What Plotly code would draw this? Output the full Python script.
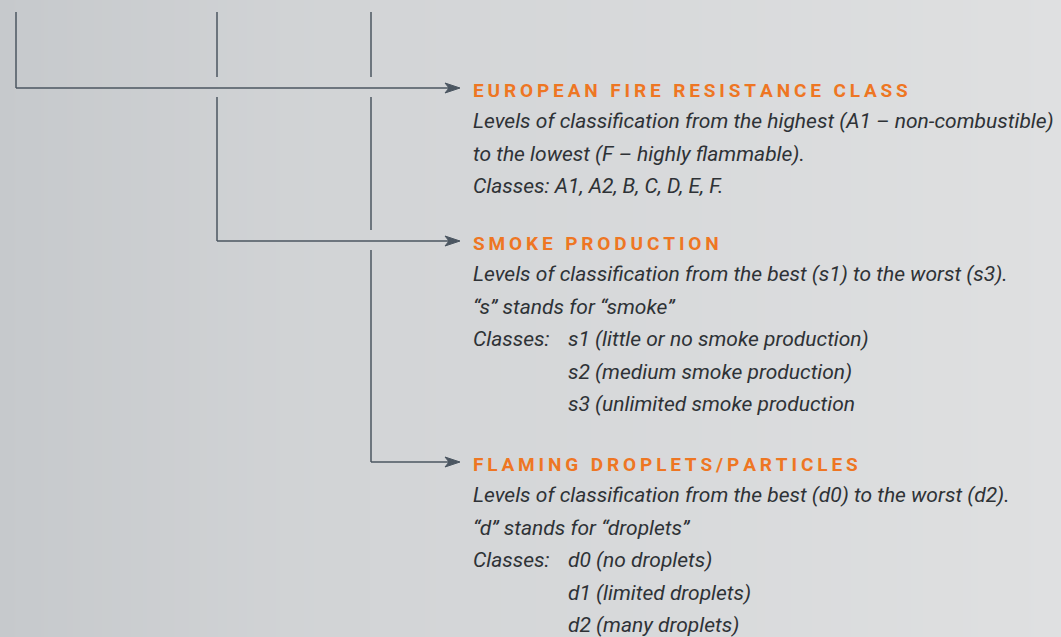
import plotly.graph_objects as go

W, H = 1061, 637

# ---- content ----
headings = ["EUROPEAN FIRE RESISTANCE CLASS", "SMOKE PRODUCTION", "FLAMING DROPLETS/PARTICLES"]
heading_y = [90, 243, 464]
arrow_y = [88, 241, 462]
branch_x = [16, 217, 371]

body_lines = [
    ["Levels of classification from the highest (A1 – non-combustible)",
     "to the lowest (F – highly flammable).",
     "Classes: A1, A2, B, C, D, E, F."],
    ["Levels of classification from the best (s1) to the worst (s3).",
     "“s” stands for “smoke”",
     "Classes:"],
    ["Levels of classification from the best (d0) to the worst (d2).",
     "“d” stands for “droplets”",
     "Classes:"],
]
class_items = [
    [],
    ["s1 (little or no smoke production)", "s2 (medium smoke production)", "s3 (unlimited smoke production"],
    ["d0 (no droplets)", "d1 (limited droplets)", "d2 (many droplets)"],
]

line_color = "#4b5661"
orange = "#ee7623"
text_color = "#2e3236"
text_x = 471
indent_x = 566
line_gap = 32.5
top_y = 12
arrow_tip = 460

fig = go.Figure()

# background gradient
fig.add_trace(go.Heatmap(
    x=[0, 300, 1061], y=[0, 637], z=[[0, 0.45, 1], [0, 0.45, 1]],
    zsmooth="best", showscale=False, hoverinfo="skip",
    colorscale=[[0, "#c6c9cc"], [1, "#dfe0e1"]],
))

shapes = []
for i, bx in enumerate(branch_x):
    segs = []
    start = top_y
    for j in range(i):
        segs.append((start, arrow_y[j] - 11))
        start = arrow_y[j] + 9
    segs.append((start, arrow_y[i]))
    for y0, y1 in segs:
        shapes.append(dict(type="line", x0=bx, x1=bx, y0=y0, y1=y1,
                           line=dict(color=line_color, width=1.5), xref="x", yref="y"))
    ay = arrow_y[i]
    shapes.append(dict(type="line", x0=bx, x1=arrow_tip - 8, y0=ay, y1=ay,
                       line=dict(color=line_color, width=1.5), xref="x", yref="y"))
    shapes.append(dict(type="path",
                       path=f"M {arrow_tip},{ay} L {arrow_tip-15},{ay-5} L {arrow_tip-11},{ay} L {arrow_tip-15},{ay+5} Z",
                       fillcolor=line_color, line=dict(color=line_color, width=1), xref="x", yref="y"))

annotations = []
def spaced(s):
    return "\u2009".join(list(s))

body_font = dict(family="Roboto", size=21, color=text_color, style="italic")
for i, h in enumerate(headings):
    annotations.append(dict(x=text_x, y=heading_y[i], text="<b>" + spaced(h) + "</b>",
                            xanchor="left", yanchor="middle", showarrow=False,
                            font=dict(family="Roboto", size=19, color=orange)))
    for k, ln in enumerate(body_lines[i]):
        annotations.append(dict(x=text_x, y=heading_y[i] + 31 + k * line_gap, text=ln,
                                xanchor="left", yanchor="middle", showarrow=False,
                                font=body_font))
    for k, ln in enumerate(class_items[i]):
        annotations.append(dict(x=indent_x, y=heading_y[i] + 31 + (2 + k) * line_gap, text=ln,
                                xanchor="left", yanchor="middle", showarrow=False,
                                font=body_font))

fig.update_layout(
    width=W, height=H, margin=dict(l=0, r=0, t=0, b=0),
    paper_bgcolor="#d5d7d9", plot_bgcolor="#d5d7d9",
    xaxis=dict(range=[0, W], visible=False, fixedrange=True),
    yaxis=dict(range=[H, 0], visible=False, fixedrange=True),
    shapes=shapes, annotations=annotations, showlegend=False,
)

fig.write_html("out.html", config={"displayModeBar": False},
               post_script="document.body.style.margin='0';document.body.style.overflow='hidden';")
